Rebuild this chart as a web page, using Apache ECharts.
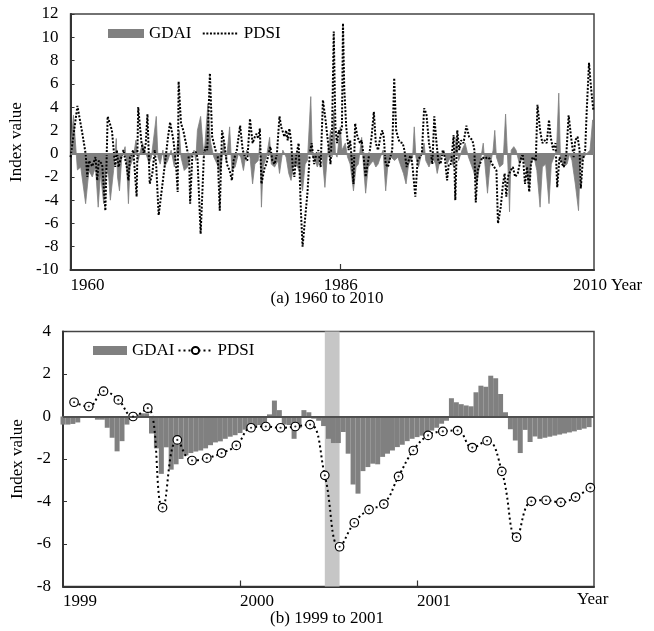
<!DOCTYPE html>
<html>
<head>
<meta charset="utf-8">
<script src="https://cdn.jsdelivr.net/npm/echarts@6/dist/echarts.min.js"></script>
<style>
html,body{margin:0;padding:0;background:#fff;}
#chart{width:654px;height:631px;}
</style>
</head>
<body>
<div id="chart"></div>
<script>
// ---------- (a) 1960 to 2010 : values read at turning points ----------
const topGdaiYears = [1960.00,1960.28,1960.66,1960.98,1961.45,1961.77,1962.09,1962.40,1962.66,1962.88,1963.19,1963.45,1963.67,1963.83,1964.14,1964.40,1964.52,1964.71,1964.93,1965.25,1965.41,1965.57,1965.72,1966.04,1966.29,1966.51,1966.74,1966.93,1967.15,1967.37,1967.56,1967.78,1968.25,1968.41,1968.63,1968.89,1969.04,1969.36,1969.68,1969.99,1970.47,1970.63,1970.94,1971.26,1971.57,1971.89,1972.05,1972.21,1972.52,1972.68,1972.84,1973.22,1973.47,1973.79,1974.11,1974.42,1974.74,1974.99,1975.31,1975.53,1975.84,1976.16,1976.38,1976.64,1976.95,1977.27,1977.52,1977.74,1978.06,1978.22,1978.37,1978.53,1978.85,1979.16,1979.32,1979.64,1979.96,1980.11,1980.43,1980.75,1981.00,1981.22,1981.44,1981.70,1982.01,1982.33,1982.58,1982.80,1983.12,1983.28,1983.53,1983.75,1983.97,1984.23,1984.48,1984.70,1985.02,1985.17,1985.33,1985.49,1985.65,1985.96,1986.12,1986.44,1986.66,1986.91,1987.23,1987.48,1987.70,1988.02,1988.18,1988.40,1988.65,1988.87,1989.13,1989.38,1989.60,1989.82,1990.08,1990.33,1990.55,1990.87,1991.18,1991.50,1991.82,1992.04,1992.29,1992.54,1992.92,1993.08,1993.24,1993.49,1993.71,1994.03,1994.19,1994.50,1994.82,1995.14,1995.29,1995.61,1995.93,1996.24,1996.56,1996.87,1997.10,1997.35,1997.67,1997.98,1998.30,1998.77,1999.09,1999.40,1999.72,1999.88,2000.13,2000.35,2000.67,2000.83,2000.99,2001.30,2001.62,2001.87,2002.09,2002.25,2002.41,2002.66,2002.88,2003.20,2003.52,2003.83,2004.15,2004.31,2004.62,2004.88,2005.19,2005.41,2005.73,2006.05,2006.27,2006.52,2006.77,2006.99,2007.15,2007.47,2007.79,2008.04,2008.26,2008.58,2008.89,2009.05,2009.37,2009.68,2010.00,2010.25,2010.38];
const topGdaiValues = [0.3,3.3,-1.4,-1.15,-4.3,-1.45,-2.0,-1.15,-4.6,-1.7,-4.3,-1.15,-2.0,-4.0,-1.45,1.3,-2.0,-3.2,-0.3,0.6,-1.15,-4.3,-1.15,-0.3,1.15,-0.6,0.3,0.9,0.3,-0.3,-0.9,-0.3,3.2,-0.3,-0.9,0.3,-1.15,-0.6,0.3,-1.15,2.0,-0.3,-1.45,-1.15,-0.3,0.3,-0.6,2.0,3.2,1.45,-0.3,4.3,1.0,-0.3,-0.9,-1.7,1.0,-0.7,2.3,-1.45,-1.15,0.0,-0.3,-1.45,0.3,-0.3,-2.6,-0.9,-0.6,0.9,-4.6,-1.15,-0.3,1.4,-0.9,-1.15,-0.6,-1.7,0.3,-0.3,-1.7,-2.3,-1.15,-0.9,-1.45,-3.2,-0.9,-0.6,4.9,-0.3,-0.6,-1.15,-0.6,-0.3,-2.9,-0.3,2.0,-0.3,3.7,0.0,-0.3,2.3,0.3,0.9,-0.3,-0.9,-3.2,-1.15,-0.9,1.4,-0.9,-3.4,-1.15,-0.9,-0.6,-1.15,-0.9,-0.3,0.3,-3.2,-0.9,-0.3,-0.6,-0.3,-1.15,-1.7,-2.6,-0.9,-0.3,2.3,-0.3,-1.15,-0.3,0.9,-0.6,-1.15,-0.3,-0.9,-1.7,-0.3,0.3,-0.9,-0.3,-1.15,1.4,-0.6,0.3,0.9,-0.3,-1.45,-2.6,-0.9,0.9,-0.9,-3.4,-1.15,0.3,2.0,-0.3,-1.15,-0.9,3.4,-0.9,-5.0,0.3,0.6,0.3,-0.9,-0.3,-1.15,-3.2,-0.9,-0.3,-1.45,-4.6,-1.15,-0.9,-4.3,-0.9,-0.3,0.3,5.2,-0.3,-1.15,-0.9,0.0,-0.6,-2.6,-4.9,-0.9,-0.3,0.0,0.3,2.9,0.6];

const topPdsiYears = [1960.00,1960.66,1961.14,1961.45,1961.61,1961.77,1962.09,1962.40,1962.56,1962.72,1963.04,1963.35,1963.57,1963.98,1964.30,1964.46,1964.62,1964.78,1965.09,1965.41,1965.57,1965.72,1966.04,1966.36,1966.51,1966.83,1967.05,1967.24,1967.40,1967.62,1967.87,1968.10,1968.25,1968.48,1968.89,1969.20,1969.36,1969.58,1969.90,1970.15,1970.31,1970.40,1970.63,1970.85,1971.10,1971.42,1971.51,1971.73,1972.05,1972.21,1972.52,1972.84,1973.00,1973.16,1973.41,1973.63,1973.95,1974.17,1974.36,1974.58,1974.80,1975.05,1975.31,1975.53,1975.69,1976.00,1976.32,1976.57,1976.79,1977.01,1977.27,1977.52,1977.74,1977.90,1978.06,1978.22,1978.37,1978.69,1978.85,1979.07,1979.23,1979.42,1979.64,1979.86,1980.11,1980.27,1980.59,1980.75,1980.90,1981.06,1981.22,1981.38,1981.54,1981.70,1981.95,1982.17,1982.33,1982.58,1982.80,1983.02,1983.21,1983.44,1983.66,1983.85,1984.07,1984.29,1984.54,1984.86,1985.02,1985.17,1985.33,1985.49,1985.65,1985.81,1985.96,1986.12,1986.22,1986.34,1986.53,1986.76,1986.91,1987.07,1987.23,1987.39,1987.61,1987.86,1988.02,1988.18,1988.40,1988.59,1988.81,1988.97,1989.19,1989.38,1989.60,1989.82,1990.01,1990.14,1990.33,1990.55,1990.77,1990.96,1991.15,1991.34,1991.50,1991.66,1991.82,1991.97,1992.13,1992.35,1992.54,1992.76,1992.92,1993.18,1993.40,1993.62,1993.81,1994.03,1994.25,1994.50,1994.69,1994.82,1995.01,1995.20,1995.39,1995.61,1995.83,1996.02,1996.24,1996.40,1996.62,1996.87,1997.03,1997.22,1997.41,1997.60,1997.82,1998.10,1998.36,1998.68,1998.87,1999.00,1999.18,1999.40,1999.63,1999.88,2000.13,2000.35,2000.58,2000.77,2000.99,2001.14,2001.40,2001.62,2001.78,2001.94,2002.09,2002.35,2002.57,2002.79,2003.04,2003.29,2003.52,2003.74,2003.93,2004.15,2004.31,2004.47,2004.78,2004.94,2005.19,2005.41,2005.64,2005.83,2006.05,2006.20,2006.46,2006.68,2006.84,2007.06,2007.31,2007.47,2007.72,2007.94,2008.17,2008.42,2008.58,2008.80,2008.99,2009.11,2009.30,2009.53,2009.68,2009.90,2010.09,2010.32];
const topPdsiValues = [-0.3,4.1,1.7,0.0,-2.0,-0.6,-1.1,-0.3,-2.3,-0.6,-0.9,-4.9,3.2,2.0,-1.15,0.3,-1.15,-0.6,0.3,-1.15,-2.3,-0.3,0.3,-3.7,4.0,0.9,0.0,0.9,3.4,-2.6,-1.7,0.3,-1.15,-5.3,-2.3,0.0,1.3,2.7,1.15,-0.9,-3.3,6.2,2.6,2.0,0.9,-0.6,-4.3,0.0,0.15,-0.3,-6.9,0.0,0.6,0.3,6.9,1.45,0.3,-0.3,-4.9,2.0,0.9,-0.9,-1.45,-2.3,-0.6,0.3,2.4,0.3,-0.3,-0.6,3.0,0.9,1.45,1.7,1.3,2.15,-2.6,-1.15,-0.9,0.0,0.6,-0.6,-0.9,0.0,3.2,2.3,1.45,2.0,1.15,2.15,1.15,-1.15,-2.0,-0.3,0.9,-4.9,-8.0,-5.5,-3.4,0.0,0.9,-0.9,0.0,0.3,-1.15,4.6,2.9,0.3,-0.9,2.0,10.5,2.3,0.9,2.0,1.7,2.3,11.2,5.7,2.3,0.3,1.15,-0.6,-2.6,2.6,1.45,0.9,1.15,0.0,-2.0,-0.9,0.3,1.45,3.6,0.9,0.3,1.45,2.0,1.45,-0.9,-1.15,-0.3,0.3,6.5,2.0,1.45,1.0,1.15,0.9,0.3,-1.15,-0.6,0.0,-1.15,-3.7,-0.6,-0.3,0.0,3.9,3.4,0.9,0.0,-0.9,3.2,1.15,-0.6,-0.9,0.3,-0.3,-2.3,-0.9,-0.9,1.6,-4.0,2.0,0.3,1.15,0.9,2.4,1.45,1.15,0.3,-4.2,-1.45,-0.9,-0.3,-0.45,-0.3,-0.45,-0.9,-1.0,-1.45,-6.0,-4.6,-2.6,-1.7,-3.7,-2.0,-1.45,-1.15,-2.0,-1.7,-0.6,0.0,-2.6,-1.15,-3.3,-0.9,-0.3,-0.6,4.2,2.0,0.9,1.15,0.9,2.9,1.45,0.3,0.9,-2.9,-0.3,-0.9,-1.15,0.0,3.3,1.45,-0.3,1.15,1.45,0.3,-3.0,-0.6,0.3,3.7,7.8,5.7,3.7];

const topTickYears = [1960, 1986, 2010];

// ---------- (b) 1999 to 2001 ----------
// GDAI: 10-day (dekad) values, 36 per year
const bottomGdaiDekads = [
 -0.38,-0.38,-0.35,-0.28,-0.03,-0.02,-0.03,-0.15,-0.15,-0.53,
 -1.0,-1.64,-1.16,-0.38,-0.15,0.1,0.15,0.15,-0.8,-1.5,
 -2.7,-1.45,-2.5,-2.25,-2.0,-1.83,-1.72,-1.65,-1.6,-1.5,
 -1.35,-1.22,-1.17,-1.05,-0.95,-0.88,-0.78,-0.62,-0.55,-0.47,
 -0.4,-0.3,0.1,0.75,0.3,-0.38,-0.4,-1.05,-0.55,0.3,
 0.2,-0.1,-0.2,-0.45,-1.05,-1.25,-1.25,-0.73,-1.75,-3.2,
 -3.63,-2.57,-2.38,-2.22,-2.25,-1.9,-1.75,-1.6,-1.44,-1.33,
 -1.16,-1.05,-0.97,-0.9,-0.78,-0.66,-0.53,-0.34,-0.2,0.86,
 0.67,0.58,0.52,0.48,1.14,1.45,1.4,1.92,1.8,1.06,
 0.2,-0.6,-1.13,-1.72,-0.63,-1.2,-0.94,-1.05,-1.0,-0.95,
 -0.9,-0.85,-0.8,-0.75,-0.7,-0.63,-0.57,-0.5];
// PDSI: monthly values
const bottomPdsiMonthly = [0.67,0.47,1.19,0.78,0.0,0.39,-4.29,-1.1,-2.07,-1.96,-1.72,-1.36,
 -0.53,-0.47,-0.53,-0.47,-0.38,-2.77,-6.13,-5.0,-4.38,-4.12,-2.82,-1.6,
 -0.89,-0.70,-0.66,-1.46,-1.14,-2.58,-5.68,-3.99,-3.94,-4.04,-3.79,-3.35];
const bottomYearLabels = ['1999', '2000', '2001'];
const highlightMonths = [17.75, 18.75];

// ---------- build ----------
const FONT = 'Liberation Serif';
const txt = {fontFamily: FONT, fontSize: 17, color: '#000'};

const topGdai = topGdaiYears.map((y, i) => [y, topGdaiValues[i]]);
const topPdsi = topPdsiYears.map((y, i) => [y, topPdsiValues[i]]);
const botGdai = bottomGdaiDekads.map((v, k) => [k / 3, v]);
const botPdsi = bottomPdsiMonthly.map((v, i) => [i + 0.75, v]);

const chart = echarts.init(document.getElementById('chart'), null, {renderer: 'canvas'});

const axisLine = {show: true, onZero: false, lineStyle: {color: '#333', width: 2}};

chart.setOption({
  animation: false,
  backgroundColor: '#fff',
  title: [
    {text: '(a) 1960 to 2010', left: 'center', top: 285, textStyle: {fontFamily: FONT, fontSize: 17, fontWeight: 'normal', color: '#000'}},
    {text: '(b) 1999 to 2001', left: 'center', top: 605, textStyle: {fontFamily: FONT, fontSize: 17, fontWeight: 'normal', color: '#000'}}
  ],
  legend: [
    {
      left: 103, top: 20, itemGap: 6, itemWidth: 36, itemHeight: 9,
      textStyle: {fontFamily: FONT, fontSize: 17, color: '#000'},
      data: [{name: 'GDAI ', icon: 'rect'}, {name: 'PDSI ', itemStyle: {opacity: 0}}]
    },
    {
      left: 88, top: 337, itemGap: 3, itemWidth: 34, itemHeight: 9,
      textStyle: {fontFamily: FONT, fontSize: 17, color: '#000'},
      data: [{name: 'GDAI', icon: 'rect'}, {name: 'PDSI'}]
    }
  ],
  grid: [
    {left: 63, right: 60, top: 14, height: 256, show: true, borderColor: '#444', borderWidth: 1.5},
    {left: 63, right: 60, top: 331.5, height: 255, show: true, borderColor: '#444', borderWidth: 1.5}
  ],
  xAxis: [
    {
      type: 'value', gridIndex: 0, min: 1960, max: 2010.38,
      axisLine: axisLine,
      splitLine: {show: false},
      axisTick: {show: true, inside: true, length: 6, customValues: [topTickYears[1]], lineStyle: {color: '#333', width: 1.2}},
      axisLabel: Object.assign({customValues: topTickYears, margin: 7, alignMinLabel: 'left', formatter: v => String(Math.round(v))}, txt),
      name: 'Year', nameLocation: 'end', nameGap: 6,
      nameTextStyle: Object.assign({verticalAlign: 'top', padding: [7, 0, 0, 0]}, txt)
    },
    {
      type: 'value', gridIndex: 1, min: 0, max: 36,
      axisLine: axisLine,
      splitLine: {show: false},
      axisTick: {show: true, inside: true, length: 6, customValues: [12, 24], lineStyle: {color: '#333', width: 1.2}},
      axisLabel: Object.assign({customValues: [0, 12, 24], align: 'left', margin: 7,
        formatter: v => bottomYearLabels[Math.round(v / 12)]}, txt)
    }
  ],
  yAxis: [
    {
      type: 'value', gridIndex: 0, min: -10, max: 12, interval: 2,
      axisLine: axisLine,
      splitLine: {show: false},
      axisTick: {show: true, inside: true, length: 4, lineStyle: {color: '#333'}},
      axisLabel: Object.assign({margin: 12}, txt),
      name: 'Index value', nameLocation: 'middle', nameGap: 29, nameRotate: 90,
      nameTextStyle: txt
    },
    {
      type: 'value', gridIndex: 1, min: -8, max: 4, interval: 2,
      axisLine: axisLine,
      splitLine: {show: false},
      axisTick: {show: true, inside: true, length: 4, lineStyle: {color: '#333'}},
      axisLabel: Object.assign({margin: 12}, txt),
      name: 'Index value', nameLocation: 'middle', nameGap: 29, nameRotate: 90,
      nameTextStyle: txt
    }
  ],
  graphic: [
    {type: 'text', left: 577, top: 591, style: {text: 'Year', font: '17px "Liberation Serif"', fill: '#000'}}
  ],
  series: [
    {
      name: 'GDAI ', type: 'line', xAxisIndex: 0, yAxisIndex: 0,
      data: topGdai, symbol: 'none', z: 2,
      lineStyle: {color: '#808080', width: 0.8},
      itemStyle: {color: '#808080'},
      areaStyle: {color: '#808080', opacity: 1},
      markLine: {silent: true, symbol: 'none', label: {show: false},
        lineStyle: {color: '#808080', width: 2, type: 'solid'}, data: [{yAxis: 0}]}
    },
    {
      name: 'PDSI ', type: 'line', xAxisIndex: 0, yAxisIndex: 0,
      data: topPdsi, symbol: 'none', z: 3,
      lineStyle: {color: '#000', width: 2, type: [2, 1.6]},
      itemStyle: {color: '#000'}
    },
    {
      name: 'band', type: 'line', xAxisIndex: 1, yAxisIndex: 1, data: [], z: 1,
      markArea: {silent: true, itemStyle: {color: '#c6c6c6'},
        data: [[{xAxis: highlightMonths[0]}, {xAxis: highlightMonths[1]}]]}
    },
    {
      name: 'GDAI', type: 'bar', xAxisIndex: 1, yAxisIndex: 1,
      data: botGdai, barWidth: 5, z: 2, clip: true,
      itemStyle: {color: '#808080'},
      markLine: {silent: true, symbol: 'none', label: {show: false},
        lineStyle: {color: '#505050', width: 2, type: 'solid'}, data: [{yAxis: 0}]}
    },
    {
      name: 'PDSI', type: 'line', xAxisIndex: 1, yAxisIndex: 1,
      data: botPdsi, smooth: 0.45, z: 4,
      symbol: 'circle', symbolSize: 8.5,
      lineStyle: {color: '#000', width: 2, type: [2, 3]},
      itemStyle: {color: '#fff', borderColor: '#000', borderWidth: 1.2}
    },
    {
      name: 'PDSI dot', type: 'scatter', xAxisIndex: 1, yAxisIndex: 1,
      data: botPdsi, symbol: 'circle', symbolSize: 2.2, z: 5,
      itemStyle: {color: '#000'}
    }
  ]
});
</script>
</body>
</html>
